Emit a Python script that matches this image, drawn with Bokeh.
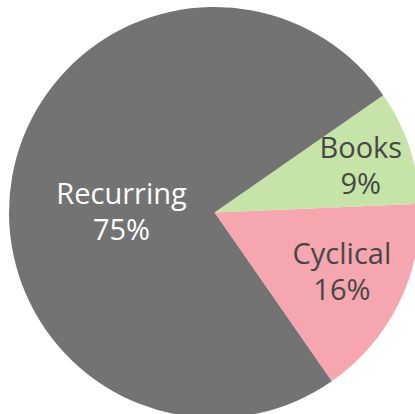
import math

from bokeh.core.properties import value
from bokeh.embed import file_html
from bokeh.models import ColumnDataSource
from bokeh.plotting import figure
from bokeh.resources import INLINE

# Share of items by type (percent)
categories = ["Cyclical", "Books", "Recurring"]
shares = [16, 9, 75]
colors = ["#f5a6af", "#c6e4a7", "#737373"]
text_colors = ["#474747", "#474747", "#ffffff"]

# where each label sits: polar angle (deg) and distance from the centre (px)
label_angle = [-24.5, 18.2, 178.8]
label_dist = [140, 154, 93]

W, H = 415, 414
cx, cy = 214, 202
R = 205.5
start_deg = -55.2

# wedge angles from the shares
total = sum(shares)
starts, ends = [], []
a = math.radians(start_deg)
for s in shares:
    span = 2 * math.pi * s / total
    starts.append(a)
    ends.append(a + span)
    a += span

wedges = ColumnDataSource(dict(
    start=starts, end=ends, color=colors,
    x=[cx] * len(shares), y=[cy] * len(shares),
))

p = figure(width=W, height=H, x_range=(0, W), y_range=(0, H),
           output_backend="svg", toolbar_location=None,
           min_border=0, outline_line_color=None)
p.axis.visible = False
p.grid.visible = False
p.background_fill_color = "white"
p.border_fill_color = "white"

p.wedge(x="x", y="y", radius=R, start_angle="start", end_angle="end",
        fill_color="color", line_color=None, source=wedges)

lx = [cx + d * math.cos(math.radians(t)) for t, d in zip(label_angle, label_dist)]
ly = [cy + d * math.sin(math.radians(t)) for t, d in zip(label_angle, label_dist)]
gap = 18

names = ColumnDataSource(dict(x=lx, y=[v + gap for v in ly], t=categories, c=text_colors))
pcts = ColumnDataSource(dict(x=lx, y=[v - gap for v in ly],
                             t=[f"{s}%" for s in shares], c=text_colors))

for src in (names, pcts):
    p.text(x="x", y="y", text="t", text_color="c", source=src,
           text_font=value("Open Sans"), text_font_size="29px",
           text_align="center", text_baseline="middle")

open("out.html", "w").write(file_html(p, INLINE))
